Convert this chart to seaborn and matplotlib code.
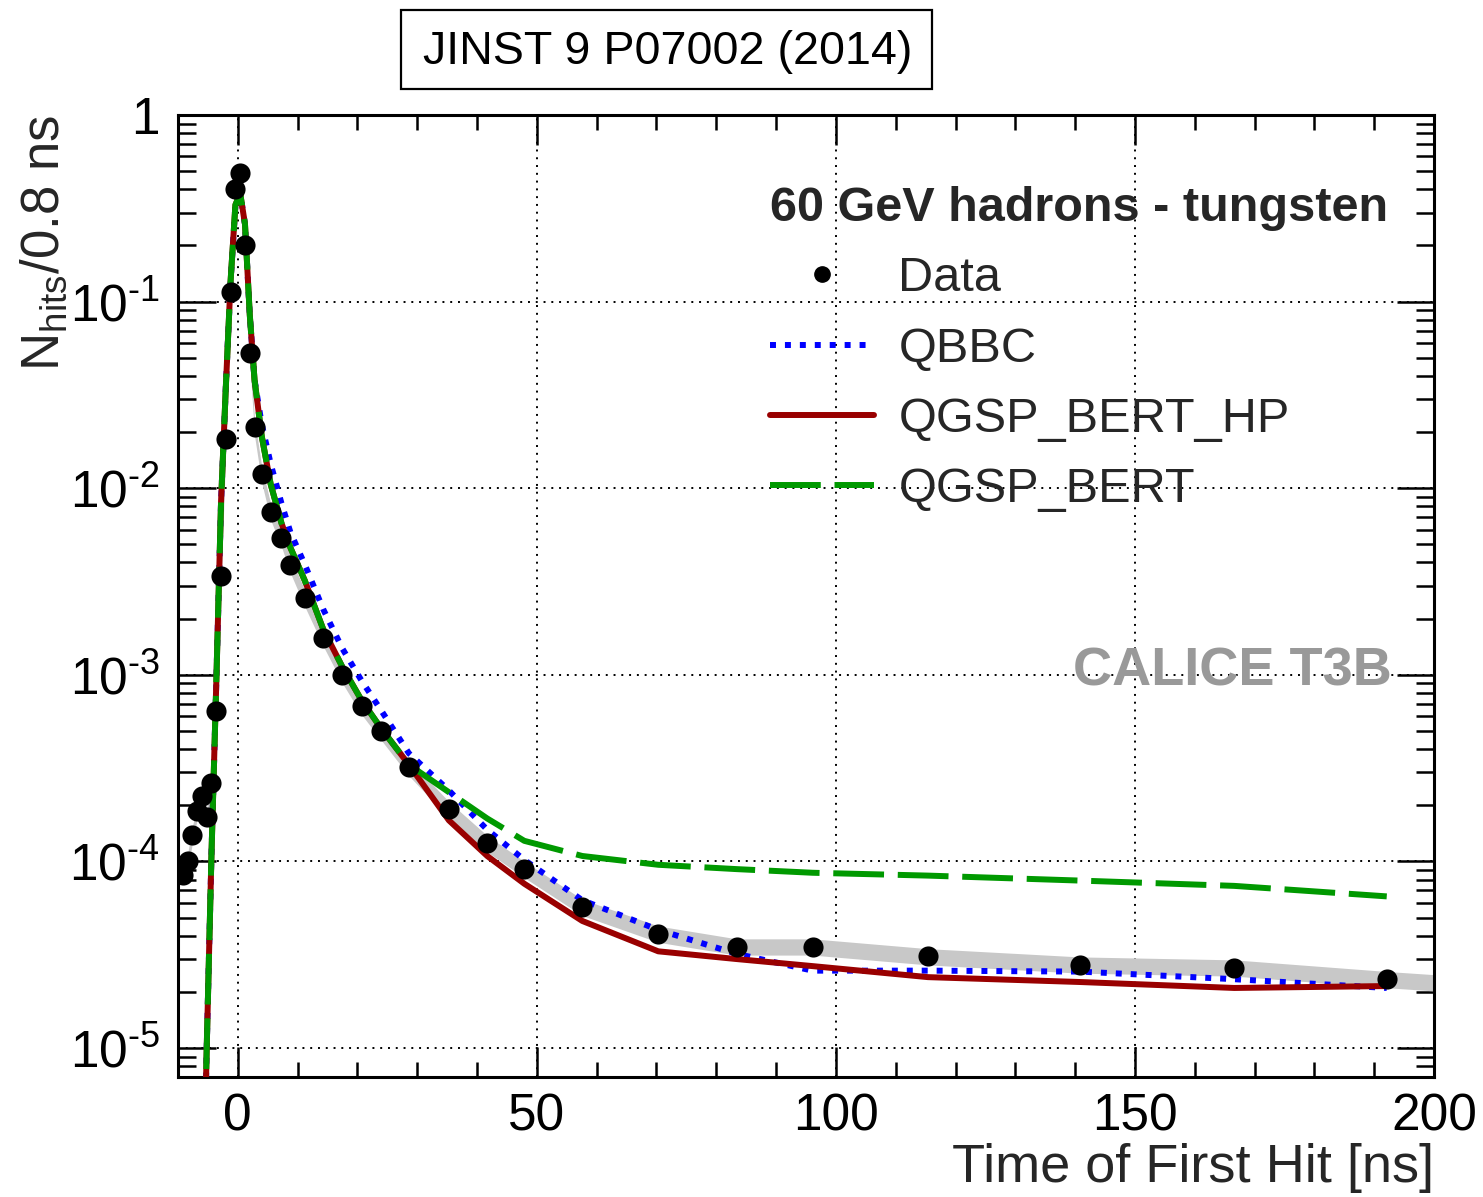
import numpy as np
import pandas as pd
import matplotlib
matplotlib.use("Agg")
import matplotlib.pyplot as plt
import matplotlib.ticker as mticker
from matplotlib.lines import Line2D
from matplotlib.patches import Rectangle
import seaborn as sns

# Time of first hit, bin centres [ns]
time_ns = [-9.2, -8.4, -7.6, -6.8, -6.0, -5.2, -4.4, -3.6, -2.8, -2.0, -1.2, -0.4,
           0.4, 1.2, 2.0, 2.8, 4.0, 5.5, 7.3, 8.8, 11.2, 14.3, 17.5, 20.7, 23.9,
           28.6, 35.3, 41.7, 47.9, 57.6, 70.3, 83.4, 96.1, 115.4, 140.8, 166.6, 192.1]

# Measured hit fractions per bin
data_hits = [8.5e-5, 1.0e-4, 1.39e-4, 1.87e-4, 2.25e-4, 1.74e-4, 2.64e-4, 6.4e-4,
             3.4e-3, 1.83e-2, 0.112, 0.40, 0.49, 0.20, 0.053, 0.0212, 0.0119, 7.5e-3,
             5.4e-3, 3.9e-3, 2.58e-3, 1.58e-3, 1.0e-3, 6.8e-4, 5.0e-4, 3.2e-4, 1.9e-4,
             1.25e-4, 9.1e-5, 5.7e-5, 4.1e-5, 3.5e-5, 3.5e-5, 3.1e-5, 2.8e-5, 2.7e-5, 2.34e-5]

# GEANT4 physics lists
qbbc = [1e-7, 1e-7, 1e-7, 1e-7, 6e-7, 1.0e-5, 1.1e-4, 9e-4, 8.5e-3, 0.035, 0.13, 0.33,
        0.38, 0.26, 0.085, 0.038, 0.022, 0.0135, 8.3e-3, 5.8e-3, 3.9e-3, 2.24e-3,
        1.38e-3, 9.3e-4, 6.5e-4, 3.8e-4, 2.4e-4, 1.48e-4, 1.02e-4, 6.2e-5, 4.3e-5,
        3.2e-5, 2.6e-5, 2.6e-5, 2.57e-5, 2.34e-5, 2.1e-5]

qgsp_bert_hp = [1e-7, 1e-7, 1e-7, 1e-7, 6e-7, 1.0e-5, 1.1e-4, 9e-4, 8.5e-3, 0.035, 0.13,
                0.33, 0.38, 0.26, 0.085, 0.038, 0.019, 0.0105, 6.5e-3, 4.8e-3, 3.2e-3,
                1.75e-3, 1.1e-3, 7.3e-4, 5.2e-4, 3.3e-4, 1.66e-4, 1.07e-4, 7.6e-5, 4.8e-5,
                3.3e-5, 3.0e-5, 2.75e-5, 2.4e-5, 2.26e-5, 2.1e-5, 2.15e-5]

qgsp_bert = [1e-7, 1e-7, 1e-7, 1e-7, 6e-7, 1.0e-5, 1.1e-4, 9e-4, 8.5e-3, 0.035, 0.13,
             0.33, 0.38, 0.26, 0.085, 0.038, 0.019, 0.0105, 6.5e-3, 4.8e-3, 3.2e-3,
             1.75e-3, 1.1e-3, 7.3e-4, 5.2e-4, 3.3e-4, 2.35e-4, 1.7e-4, 1.29e-4, 1.07e-4,
             9.6e-5, 9.1e-5, 8.7e-5, 8.4e-5, 7.9e-5, 7.4e-5, 6.5e-5]

# Systematic uncertainty band on the data
band_time = time_ns + [200.0]
band_center = data_hits + [2.25e-5]
band_rel_err = 0.10

df = pd.DataFrame({"time": time_ns, "Data": data_hits, "QBBC": qbbc,
                   "QGSP_BERT_HP": qgsp_bert_hp, "QGSP_BERT": qgsp_bert})

sns.set_theme(style="ticks")
plt.rcParams["font.family"] = ["Liberation Sans", "DejaVu Sans"]
plt.rcParams["mathtext.fontset"] = "custom"
plt.rcParams["mathtext.rm"] = "Liberation Sans"
plt.rcParams["mathtext.it"] = "Liberation Sans:italic"
plt.rcParams["mathtext.bf"] = "Liberation Sans:bold"

W, H = 1483, 1197
fig = plt.figure(figsize=(W / 100, H / 100), dpi=100)
ax = fig.add_axes([178 / W, (H - 1077) / H, 1256 / W, 962 / H])
ax.set_yscale("log")

col_blue, col_red, col_green = "#0000ff", "#990000", "#009900"

bc = np.array(band_center)
ax.fill_between(band_time, bc * (1 - band_rel_err), bc * (1 + band_rel_err),
                color="#c8c8c8", lw=0, zorder=2)

sns.lineplot(data=df, x="time", y="QBBC", ax=ax, color=col_blue, lw=4.3,
             linestyle=(0, (1, 1.5)), sort=False, estimator=None, zorder=3)
sns.lineplot(data=df, x="time", y="QGSP_BERT_HP", ax=ax, color=col_red, lw=4.3,
             sort=False, estimator=None, zorder=4)
sns.lineplot(data=df, x="time", y="QGSP_BERT", ax=ax, color=col_green, lw=4.3,
             linestyle=(0, (8.5, 2.3)), sort=False, estimator=None, zorder=5)
sns.scatterplot(data=df, x="time", y="Data", ax=ax, color="black", s=210,
                edgecolor="black", linewidth=0, zorder=6)

ax.set_xlim(-10, 200)
ax.set_ylim(7.0e-6, 1.0)

# ROOT-like frame and ticks
for sp in ax.spines.values():
    sp.set_linewidth(2.2)
    sp.set_color("black")
    sp.set_visible(True)

ax.xaxis.set_major_locator(mticker.MultipleLocator(50))
ax.xaxis.set_minor_locator(mticker.MultipleLocator(10))
ax.yaxis.set_major_locator(mticker.LogLocator(base=10, numticks=20))
ax.yaxis.set_minor_locator(mticker.LogLocator(base=10, subs=np.arange(2, 10), numticks=20))
ax.yaxis.set_minor_formatter(mticker.NullFormatter())


def decade_label(v, pos):
    e = int(round(np.log10(v)))
    if e == 0:
        return "1"
    return r"$\mathregular{10^{\text{-}%d}}$" % abs(e)


ax.yaxis.set_major_formatter(mticker.FuncFormatter(decade_label))

ax.tick_params(which="both", direction="in", top=True, right=True, width=1.8,
               color="black", labelcolor="black")
ax.tick_params(axis="x", which="major", length=21.5, labelsize=37, pad=11)
ax.tick_params(axis="x", which="minor", length=11)
ax.tick_params(axis="y", which="major", length=27, labelsize=37, pad=13)
ax.tick_params(axis="y", which="minor", length=13)

ax.grid(True, which="major", color="black", ls=(0, (1, 3)), lw=1.4)

ax.set_xlabel("Time of First Hit [ns]", fontsize=39, loc="right")
ax.xaxis.set_label_coords(1.0, -0.069)
ax.xaxis.label.set_verticalalignment("top")
ax.set_ylabel(r"N$_{\mathregular{hits}}$/0.8 ns", fontsize=38, loc="top")
ax.yaxis.set_label_coords(-0.086, 1.0)

handles = [
    Line2D([], [], marker="o", ls="none", color="black", ms=11),
    Line2D([], [], color=col_blue, lw=4.3, ls=(0, (1, 1.5))),
    Line2D([], [], color=col_red, lw=4.3),
    Line2D([], [], color=col_green, lw=4.3, ls=(0, (8.5, 2.3))),
]
labels = ["Data", "QBBC", "QGSP_BERT_HP", "QGSP_BERT"]
ax.legend(handles, labels, title="60 GeV hadrons - tungsten",
          title_fontproperties={"weight": "bold", "size": 35}, fontsize=35,
          frameon=False, loc="upper left", alignment="left",
          bbox_to_anchor=(770 / W, 1 - 186 / H), bbox_transform=fig.transFigure,
          borderpad=0, borderaxespad=0, handlelength=2.14, handletextpad=0.5,
          labelspacing=0.52)

ax.text(0.9666, 0.421, "CALICE T3B",
        transform=ax.transAxes, ha="right", va="center", fontsize=39,
        fontweight="bold", color="#999999")

fig.add_artist(Rectangle((401 / W, 1 - 89 / H), 531 / W, 79 / H,
                         transform=fig.transFigure, fill=False, ec="black", lw=1.6))
fig.text(668 / W, 1 - 52 / H, "JINST 9 P07002 (2014)", fontsize=33.6,
         ha="center", va="center", color="black")

fig.savefig("out.png", dpi=100)
